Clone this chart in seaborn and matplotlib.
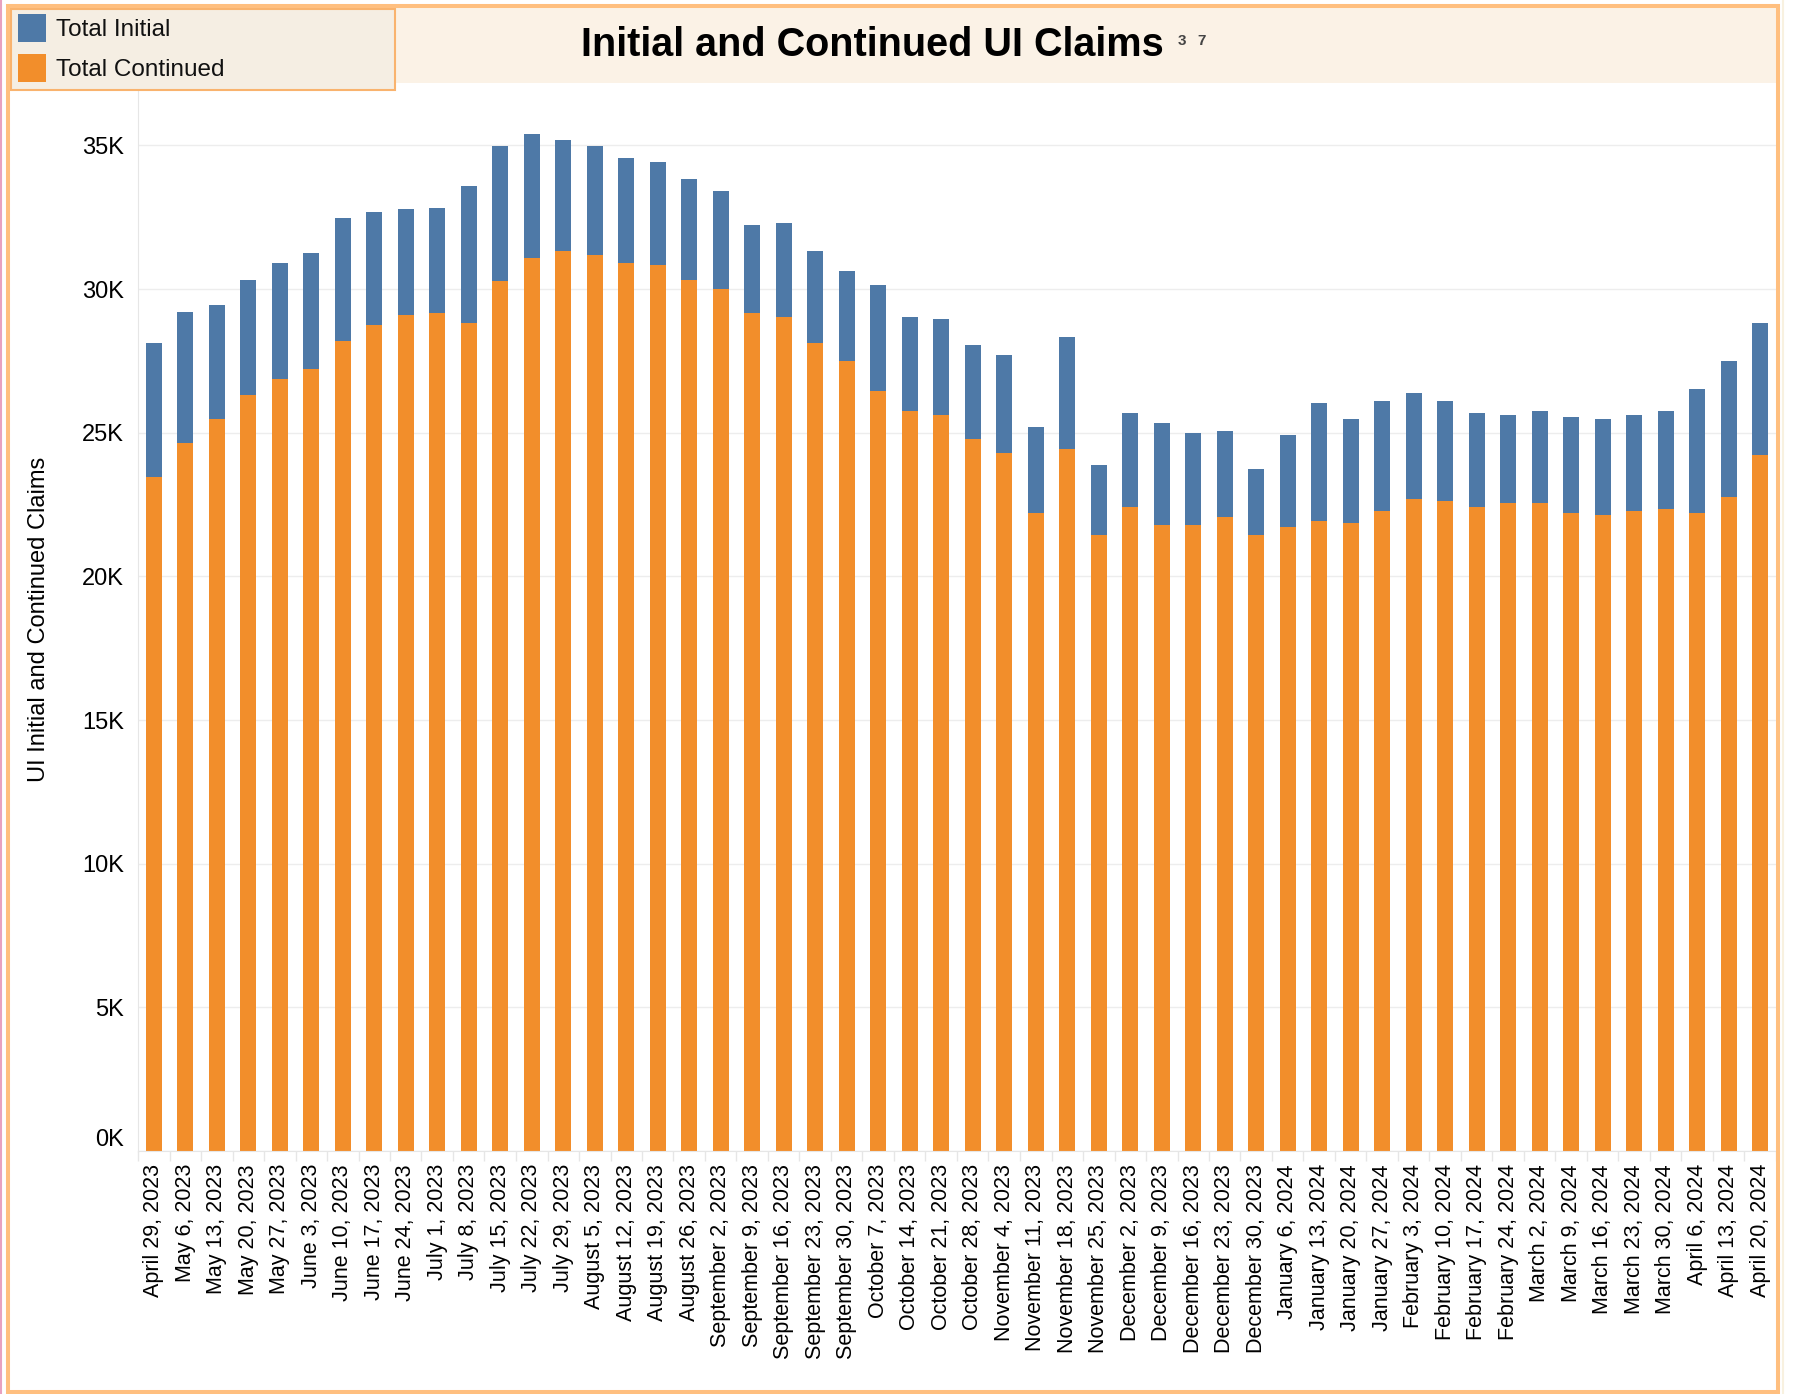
import matplotlib
matplotlib.use("Agg")
import matplotlib.pyplot as plt
from matplotlib.patches import Rectangle
from matplotlib.lines import Line2D
from matplotlib.ticker import FuncFormatter, MultipleLocator, FixedLocator
import seaborn as sns
import pandas as pd

# 週ごとの日付ラベル
weeks = [
    "April 29, 2023", "May 6, 2023", "May 13, 2023", "May 20, 2023", "May 27, 2023",
    "June 3, 2023", "June 10, 2023", "June 17, 2023", "June 24, 2023", "July 1, 2023",
    "July 8, 2023", "July 15, 2023", "July 22, 2023", "July 29, 2023", "August 5, 2023",
    "August 12, 2023", "August 19, 2023", "August 26, 2023", "September 2, 2023",
    "September 9, 2023", "September 16, 2023", "September 23, 2023", "September 30, 2023",
    "October 7, 2023", "October 14, 2023", "October 21, 2023", "October 28, 2023",
    "November 4, 2023", "November 11, 2023", "November 18, 2023", "November 25, 2023",
    "December 2, 2023", "December 9, 2023", "December 16, 2023", "December 23, 2023",
    "December 30, 2023", "January 6, 2024", "January 13, 2024", "January 20, 2024",
    "January 27, 2024", "February 3, 2024", "February 10, 2024", "February 17, 2024",
    "February 24, 2024", "March 2, 2024", "March 9, 2024", "March 16, 2024",
    "March 23, 2024", "March 30, 2024", "April 6, 2024", "April 13, 2024", "April 20, 2024",
]

# 継続申請 (下段・オレンジ)
total_continued = [
    23460, 24640, 25480, 26320, 26870, 27210, 28180, 28740, 29090, 29160,
    28820, 30280, 31100, 31320, 31170, 30900, 30830, 30330, 30000, 29160,
    29020, 28110, 27490, 26450, 25750, 25610, 24780, 24290, 22210, 24440,
    21450, 22420, 21790, 21790, 22070, 21450, 21720, 21940, 21870, 22280,
    22700, 22630, 22420, 22560, 22560, 22210, 22140, 22280, 22340, 22210,
    22760, 24220,
]

# 新規申請 (上段・青)
total_initial = [
    4650, 4580, 3960, 4010, 4030, 4030, 4310, 3960, 3690, 3670,
    4780, 4710, 4310, 3880, 3820, 3680, 3610, 3490, 3400, 3060,
    3270, 3210, 3130, 3680, 3270, 3340, 3270, 3410, 2990, 3890,
    2430, 3260, 3540, 3200, 2990, 2290, 3200, 4090, 3610, 3820,
    3680, 3470, 3260, 3050, 3190, 3340, 3340, 3330, 3410, 4310,
    4730, 4600,
]

BLUE = "#4E79A7"
ORANGE = "#F28E2B"

df = pd.DataFrame({"week": weeks, "continued": total_continued, "initial": total_initial})
df["total"] = df["continued"] + df["initial"]

W, H = 1799, 1394
fig = plt.figure(figsize=(W / 100, H / 100), dpi=100)
plt.rcParams["font.family"] = ["Liberation Sans", "DejaVu Sans"]


def fx(x):
    return x / W


def fy(y):
    return 1 - y / H


# 背景の装飾 (タイトル帯・凡例ボックス・外枠)
fig.patches.append(Rectangle((fx(10), fy(83)), fx(1776) - fx(10), fy(8) - fy(83),
                             transform=fig.transFigure, facecolor="#FBF2E6",
                             edgecolor="none", zorder=0))
fig.patches.append(Rectangle((fx(11), fy(90)), fx(395) - fx(11), fy(9) - fy(90),
                             transform=fig.transFigure, facecolor="#F5EEE3",
                             edgecolor="#F9B36E", linewidth=1.5, zorder=1))
fig.patches.append(Rectangle((fx(8), fy(1392)), fx(1778) - fx(8), fy(6) - fy(1392),
                             transform=fig.transFigure, facecolor="none",
                             edgecolor="#FFBF7F", linewidth=2.9, zorder=5))
fig.lines.append(Line2D([fx(1), fx(1)], [0, 1], transform=fig.transFigure,
                        color="#E8A1C0", linewidth=1.5))
fig.lines.append(Line2D([fx(1783), fx(1783)], [0, 1], transform=fig.transFigure,
                        color="#F8F1E0", linewidth=1.5))

# 凡例
for y0, c, lab in [(14, BLUE, "Total Initial"), (54, ORANGE, "Total Continued")]:
    fig.patches.append(Rectangle((fx(18), fy(y0 + 28)), fx(46) - fx(18), fy(y0) - fy(y0 + 28),
                                 transform=fig.transFigure, facecolor=c,
                                 edgecolor="none", zorder=2))
    fig.text(fx(56), fy(y0 + 16), lab, fontsize=17.5, ha="left", va="center",
             color="#111111", zorder=3)

# タイトル
fig.text(fx(872.5), fy(56.5), "Initial and Continued UI Claims", fontsize=28.5,
         fontweight="bold", ha="center", va="baseline", color="#000000")
fig.text(fx(1178), fy(45), "3", fontsize=11, fontweight="bold", ha="left",
         va="baseline", color="#444444")
fig.text(fx(1197), fy(45), "7", fontsize=11, fontweight="bold", ha="left",
         va="baseline", color="#444444")

# グラフ本体
ax = fig.add_axes([fx(138), fy(1151), fx(1776) - fx(138), (1151 - 88) / H])
ax.set_axisbelow(True)
ax.yaxis.grid(True, color="#EDEDED", linewidth=1)

sns.barplot(data=df, x="week", y="total", color=BLUE, saturation=1, width=0.51,
            errorbar=None, ax=ax)
sns.barplot(data=df, x="week", y="continued", color=ORANGE, saturation=1, width=0.51,
            errorbar=None, ax=ax)

ax.set_xlim(-0.5, len(weeks) - 0.5)
ax.set_ylim(0, 37000)
ax.yaxis.set_major_locator(MultipleLocator(5000))
ax.yaxis.set_major_formatter(FuncFormatter(lambda v, p: f"{int(v / 1000)}K"))

for side in ["top", "right"]:
    ax.spines[side].set_visible(False)
ax.spines["left"].set_color("#E6E6E6")
ax.spines["bottom"].set_color("#E6E6E6")

ax.xaxis.set_minor_locator(FixedLocator([i - 0.5 for i in range(len(weeks) + 1)]))
ax.tick_params(axis="x", which="minor", length=7.5, width=1, color="#E6E6E6")
ax.tick_params(axis="x", which="major", length=0, pad=9.4, labelsize=15.5,
               labelrotation=90)
ax.tick_params(axis="y", length=0, pad=10, labelsize=17)

ax.set_xlabel("")
ax.set_ylabel("UI Initial and Continued Claims", fontsize=17)
ax.yaxis.set_label_coords(-0.054, 0.5)

# 0K のラベルは基線より少し上に置く
fig.canvas.draw()
for lbl in ax.get_yticklabels():
    if lbl.get_text() == "0K":
        lbl.set_va("bottom")

fig.savefig("out.png", dpi=100)
